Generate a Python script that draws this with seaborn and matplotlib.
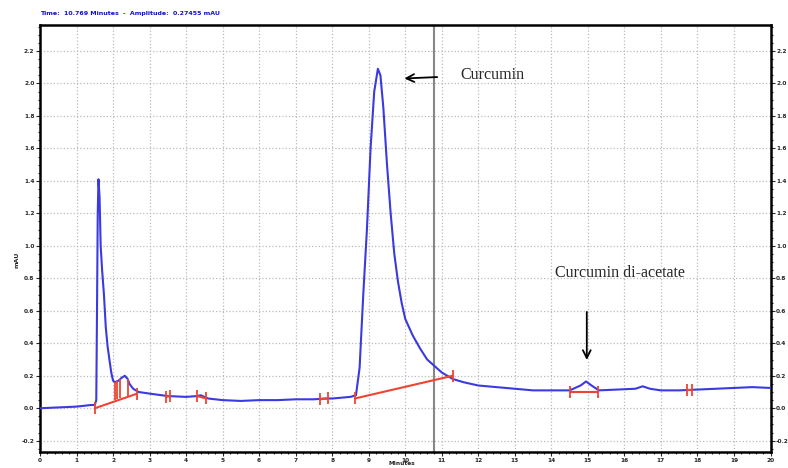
import numpy as np
import pandas as pd
import matplotlib.pyplot as plt
import seaborn as sns

# chromatogram trace (minutes, mAU)
time = [0.0, 0.5, 1.0, 1.4, 1.5, 1.54, 1.56, 1.58, 1.60, 1.63, 1.66, 1.70, 1.75,
        1.80, 1.85, 1.90, 1.95, 2.0, 2.05, 2.15, 2.25, 2.32, 2.40, 2.45, 2.55,
        2.7, 3.0, 3.5, 4.0, 4.3, 4.4, 4.6, 5.0, 5.5, 6.0, 6.5, 7.0, 7.5, 7.8,
        8.0, 8.5, 8.65, 8.75, 8.85, 8.95, 9.05, 9.15, 9.25, 9.32, 9.4, 9.5,
        9.6, 9.7, 9.8, 9.9, 10.0, 10.2, 10.4, 10.6, 10.8, 11.0, 11.3, 11.6,
        12.0, 12.5, 13.0, 13.5, 14.0, 14.5, 14.8, 14.95, 15.1, 15.3, 15.8,
        16.3, 16.5, 16.7, 17.0, 17.5, 18.0, 18.5, 19.0, 19.5, 20.0]
signal = [0.00, 0.005, 0.01, 0.02, 0.02, 0.05, 0.60, 1.20, 1.41, 1.30, 1.00,
          0.85, 0.70, 0.50, 0.38, 0.30, 0.22, 0.17, 0.16, 0.17, 0.19, 0.20,
          0.18, 0.15, 0.12, 0.10, 0.09, 0.075, 0.07, 0.075, 0.08, 0.06, 0.05,
          0.045, 0.05, 0.05, 0.055, 0.055, 0.06, 0.06, 0.07, 0.08, 0.25, 0.70,
          1.10, 1.60, 1.95, 2.09, 2.05, 1.85, 1.50, 1.20, 0.95, 0.78, 0.65,
          0.55, 0.45, 0.37, 0.30, 0.26, 0.22, 0.18, 0.16, 0.14, 0.13, 0.12,
          0.11, 0.11, 0.11, 0.14, 0.165, 0.14, 0.11, 0.115, 0.12, 0.135, 0.12,
          0.11, 0.11, 0.115, 0.12, 0.125, 0.13, 0.125]

# integration baselines (start, end) as (x0, y0, x1, y1)
base_x0 = [1.50, 3.45, 4.30, 7.66, 8.62, 14.50, 17.70]
base_y0 = [0.00, 0.07, 0.075, 0.055, 0.06, 0.10, 0.11]
base_x1 = [2.66, 3.55, 4.55, 7.88, 11.30, 15.27, 17.85]
base_y1 = [0.09, 0.075, 0.06, 0.06, 0.20, 0.10, 0.11]

# peak drop lines (x, top, bottom)
drop_x = [2.05, 2.10, 2.20, 2.40]
drop_top = [0.16, 0.165, 0.18, 0.18]
drop_bot = [0.05, 0.055, 0.06, 0.075]

cursor_time = 10.8

df = pd.DataFrame({'Minutes': time, 'mAU': signal})

sns.set_style('white')
fig = plt.figure(figsize=(7.88, 4.68), dpi=100)
ax = fig.add_axes([0.0508, 0.034, 0.927, 0.9126])

sns.lineplot(data=df, x='Minutes', y='mAU', color='#3a3ae0', lw=1.5,
             estimator=None, sort=False, ax=ax, zorder=3)

red = '#ee4433'
for x0, y0, x1, y1 in zip(base_x0, base_y0, base_x1, base_y1):
    ax.plot([x0, x1], [y0, y1], color=red, lw=1.5, zorder=4)
    ax.plot([x0, x1], [y0, y1], '|', color=red, ms=8, mew=1.3, zorder=4)
ax.vlines(drop_x, drop_bot, drop_top, color=red, lw=1.3, zorder=4)

ax.axvline(cursor_time, color='#888888', lw=1.5, zorder=2)

ax.set_xlim(0, 20)
ax.set_ylim(-0.27, 2.36)
ax.set_xticks(np.arange(0, 21, 1))
ax.set_yticks(np.arange(-0.2, 2.21, 0.2))
ax.set_xticks(np.arange(0, 20.01, 0.2), minor=True)
ax.set_yticks(np.arange(-0.25, 2.36, 0.05), minor=True)
ax.set_xticklabels([str(i) for i in range(21)])
ax.set_yticklabels([f'{v:.1f}' for v in np.arange(-0.2, 2.21, 0.2)])
ax.grid(True, which='major', color='#bbbbbb', ls=':', lw=0.9)
ax.tick_params(which='both', direction='out', left=True, right=True,
               bottom=True, labelright=True, labelsize=4.2, length=3,
               width=0.8, pad=1)
ax.tick_params(which='minor', length=1.5)
for lab in ax.get_xticklabels() + ax.get_yticklabels():
    lab.set_fontweight('bold')
for s in ax.spines.values():
    s.set_color('black')
    s.set_linewidth(1.8)

ax.set_xlabel('')
ax.set_ylabel('mAU', fontsize=4.5, fontweight='bold')
ax.yaxis.set_label_coords(-0.028, 0.45)
fig.text(0.51, 0.009, 'Minutes', fontsize=4.2, fontweight='bold',
         ha='center', va='center')

ax.text(0.0, 1.02, 'Time:  10.769 Minutes  -  Amplitude:  0.27455 mAU',
        transform=ax.transAxes, color='#1010cc', fontsize=4.5,
        fontweight='bold', ha='left', va='bottom')

serif = ['Liberation Serif', 'DejaVu Serif']
ax.annotate('', xy=(9.9, 2.03), xytext=(10.95, 2.04),
            arrowprops=dict(arrowstyle='->', color='black', lw=1.3,
                            mutation_scale=14))
ax.text(11.5, 2.05, 'Curcumin', family=serif, fontsize=11.5,
        ha='left', va='center')
ax.annotate('', xy=(14.97, 0.28), xytext=(14.97, 0.61),
            arrowprops=dict(arrowstyle='->', color='black', lw=1.3,
                            mutation_scale=14))
ax.text(14.1, 0.83, 'Curcumin di-acetate', family=serif, fontsize=11.5,
        ha='left', va='center')

plt.savefig('out.png', dpi=100)
